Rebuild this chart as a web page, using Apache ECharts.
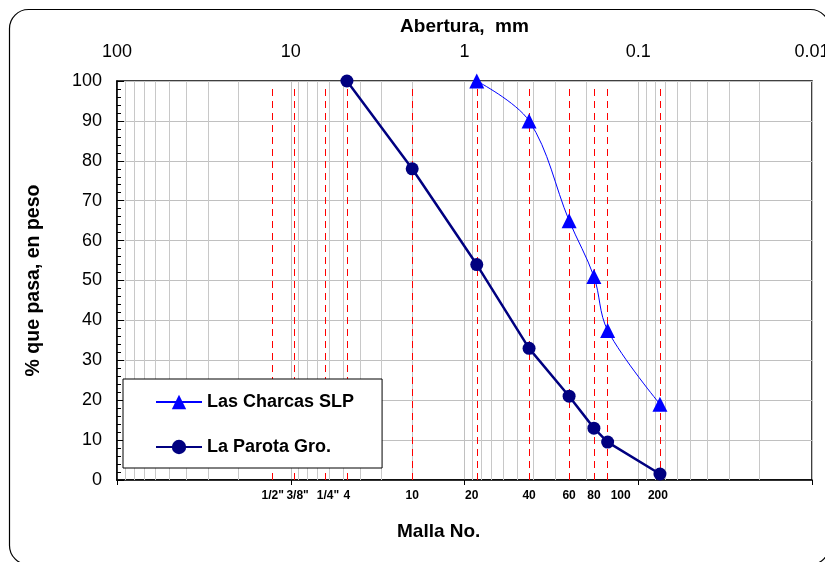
<!DOCTYPE html>
<html>
<head>
<meta charset="utf-8">
<script src="https://cdn.jsdelivr.net/npm/echarts@6/dist/echarts.min.js"></script>
<style>html,body{margin:0;padding:0;background:#fff}#c{width:825px;height:562px}</style>
</head>
<body>
<div id="c"></div>
<script>
// Sieve openings (mm) and labels
const sieveSizes = [12.7, 9.5, 6.35, 4.75, 2.0, 0.85, 0.425, 0.25, 0.18, 0.15, 0.075];
const sieveLabels = ['1/2"', '3/8"', '1/4"', '4', '10', '20', '40', '60', '80', '100', '200'];
// Series
const charcasX = [0.85, 0.425, 0.25, 0.18, 0.15, 0.075];
const charcasY = [100, 90, 65, 51, 37.5, 19];
const parotaX = [4.75, 2.0, 0.85, 0.425, 0.25, 0.18, 0.15, 0.075];
const parotaY = [100, 78, 54, 33, 21, 13, 9.5, 1.5];

// label nudges for crowded sieve labels (style only)
const labelNudge = { '20': -5, '100': 13, '3/8"': 3, '1/4"': 3, '200': -2 };

// minor log gridlines (2..9 of each decade)
const minorGrid = [];
[0.01, 0.1, 1, 10].forEach(d => { for (let k = 2; k <= 9; k++) minorGrid.push(+(k * d).toPrecision(3)); });

const FONT = 'Liberation Sans, Arial, sans-serif';
const chart = echarts.init(document.getElementById('c'));
chart.setOption({
  animation: false,
  backgroundColor: '#fff',
  textStyle: { fontFamily: FONT },
  graphic: [{
    type: 'rect', shape: { x: 9.5, y: 9.5, width: 820, height: 555, r: 19 },
    style: { fill: 'none', stroke: '#000', lineWidth: 1.2 }, z: -10
  }, {
    type: 'text', style: { text: 'Malla No.', font: 'bold 19px ' + FONT, fill: '#000' },
    left: 397, top: 522
  }],
  grid: { left: 117, right: 13, top: 81, bottom: 82, outerBoundsMode: 'none', show: true, borderColor: '#000', borderWidth: 1.5, backgroundColor: 'transparent' },
  legend: {
    orient: 'vertical', left: 123, top: 379, z: 20,
    backgroundColor: '#fff', borderColor: '#000', borderWidth: 1,
    padding: [13, 28, 11, 32], itemGap: 25, itemWidth: 46, itemHeight: 18,
    textStyle: { fontSize: 18, fontWeight: 'bold', color: '#000', fontFamily: FONT, lineHeight: 20 },
    data: ['Las Charcas SLP', 'La Parota Gro.']
  },
  xAxis: [{
    type: 'log', logBase: 10, min: 0.01, max: 100, inverse: true, position: 'top',
    name: 'Abertura,  mm', nameLocation: 'middle', nameGap: 45,
    nameTextStyle: { fontSize: 19, fontWeight: 'bold', color: '#000', fontFamily: FONT },
    axisLine: { show: true, lineStyle: { color: '#000', width: 1.5 } },
    axisTick: { show: true, inside: true, length: 5, lineStyle: { color: '#000' } },
    axisLabel: { fontSize: 18, color: '#000', margin: 20, fontFamily: FONT, hideOverlap: false,
      showMinLabel: true, showMaxLabel: true,
      formatter: v => String(+v.toPrecision(2)) },
    splitLine: { show: true, lineStyle: { color: '#c0c0c0', width: 1 } }
  }],
  yAxis: [{
    type: 'value', min: 0, max: 100, interval: 10,
    name: '% que pasa, en peso', nameLocation: 'middle', nameGap: 73, nameRotate: 90,
    nameTextStyle: { fontSize: 19.5, fontWeight: 'bold', color: '#000', fontFamily: FONT },
    axisLine: { show: true, lineStyle: { color: '#000', width: 1.5 } },
    axisTick: { show: true, inside: true, length: 7, lineStyle: { color: '#000' } },
    minorTick: { show: true, splitNumber: 5, length: 4, lineStyle: { color: '#000' } },
    axisLabel: { fontSize: 18, color: '#000', margin: 15, fontFamily: FONT },
    splitLine: { show: true, lineStyle: { color: '#c0c0c0', width: 1 } }
  }],
  series: [{
    type: 'line', name: '_minor', data: [], silent: true, z: 1,
    markLine: { silent: true, symbol: 'none', animation: false,
      lineStyle: { color: '#c8c8c8', type: 'solid', width: 1 }, label: { show: false },
      data: minorGrid.map(v => ({ xAxis: v })) }
  }, {
    type: 'line', name: '_sieves', data: [], silent: true, z: 2,
    markLine: { silent: true, symbol: 'none', animation: false,
      lineStyle: { color: '#ff0000', type: [7, 5], width: 1 },
      label: { show: true, position: 'start', distance: 10, fontSize: 12, fontWeight: 'bold', color: '#000', fontFamily: FONT, formatter: p => p.name },
      data: sieveSizes.map((s, i) => [{ coord: [s, 0], name: sieveLabels[i],
        label: { offset: [labelNudge[sieveLabels[i]] || 0, 0] } }, { coord: [s, 98] }]) }
  }, {
    type: 'line', name: 'Las Charcas SLP', z: 5,
    data: charcasX.map((x, i) => [x, charcasY[i]]),
    smooth: 0.35, symbol: 'triangle', symbolSize: 15,
    lineStyle: { color: '#0000ff', width: 1 }, itemStyle: { color: '#0000ff' }
  }, {
    type: 'line', name: 'La Parota Gro.', z: 6,
    data: parotaX.map((x, i) => [x, parotaY[i]]),
    symbol: 'circle', symbolSize: 13,
    lineStyle: { color: '#000080', width: 2.5 }, itemStyle: { color: '#000080' }
  }]
});
</script>
</body>
</html>
